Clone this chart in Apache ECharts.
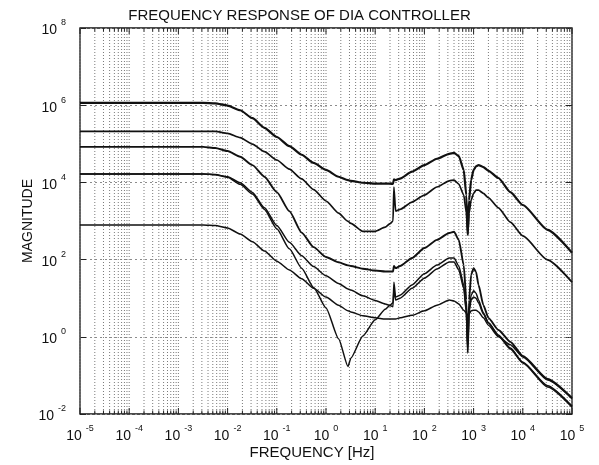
<!DOCTYPE html>
<html>
<head>
<meta charset="utf-8">
<script src="https://cdn.jsdelivr.net/npm/echarts@6/dist/echarts.min.js"></script>
<style>
  html, body { margin: 0; padding: 0; background: #fff; }
  #chart { width: 599px; height: 465px; }
</style>
</head>
<body>
<div id="chart"></div>
<script>
// Frequency samples (Hz), shared by every response curve
const freq = [1e-5, 1e-3, 0.0032, 0.0056, 0.01, 0.018, 0.032, 0.056, 0.1, 0.18,
  0.32, 0.56, 1, 1.8, 2.8, 3.2, 5.6, 10, 16, 20,
  23, 24, 26, 32, 56, 100, 180, 320, 400, 500,
  630, 710, 760, 810, 890, 1000, 1120, 1260, 1580, 2000,
  3200, 5600, 10000, 32000, 100000];

// Magnitude of each controller setting at the frequencies above
const gainTop = [1.15e6, 1.15e6, 1.15e6, 1.12e6, 9.8e5, 7.4e5, 4.6e5, 2.6e5, 1.5e5, 8.7e4,
  5.2e4, 3.2e4, 2.1e4, 1.4e4, 1.15e4, 1.1e4, 9.8e3, 9.3e3, 9.3e3, 9.3e3,
  9.1e3, 1.2e4, 1.15e4, 1.26e4, 1.9e4, 2.8e4, 4.1e4, 5.5e4, 5.8e4, 4.8e4,
  2.1e4, 4.7e3, 440, 3.5e3, 1.15e4, 2.1e4, 2.6e4, 2.8e4, 2.5e4, 2.0e4,
  1.3e4, 5.6e3, 2.6e3, 590, 150];

const gainSecond = [2.1e5, 2.1e5, 2.1e5, 2.1e5, 1.86e5, 1.45e5, 9.8e4, 6.3e4, 3.8e4, 2.2e4,
  1.23e4, 6.5e3, 3.3e3, 1.6e3, 980, 870, 540, 540, 690, 850,
  1000, 7.6e3, 1.8e3, 2.0e3, 3.1e3, 4.7e3, 7.6e3, 1.1e4, 1.15e4, 9.1e3,
  4.7e3, 1.7e3, 440, 1.6e3, 3.5e3, 5.2e3, 6.3e3, 6.3e3, 5.2e3, 4.0e3,
  2.2e3, 930, 410, 98, 26];

const gainThird = [8.3e4, 8.3e4, 8.3e4, 7.8e4, 6.5e4, 4.6e4, 2.8e4, 1.4e4, 5.6e3, 1.8e3,
  500, 210, 117, 85, 71, 68, 58, 52, 49, 49,
  49, 68, 60, 68, 110, 200, 325, 490, 525, 325,
  72, 9, 0.38, 9, 40, 60, 48, 22, 6.6, 3.1,
  1.5, 0.74, 0.32, 0.081, 0.026];

const gainFourth = [1.65e4, 1.65e4, 1.65e4, 1.6e4, 1.4e4, 9.8e3, 5.5e3, 2.2e3, 760, 280,
  126, 66, 38, 24, 17.4, 16.2, 11.5, 8.7, 7.1, 6.5,
  6.0, 26, 10.7, 12, 22, 43, 72, 110, 110, 68,
  22, 4.9, 0.46, 4.9, 12, 15.5, 13.5, 9, 4.2, 2.3,
  1.12, 0.51, 0.22, 0.054, 0.016];

const gainFifth = [1.65e4, 1.65e4, 1.65e4, 1.58e4, 1.35e4, 8.9e3, 5.0e3, 2.0e3, 630, 190,
  60, 19, 5.6, 0.89, 0.17, 0.28, 1.05, 2.75, 5.2, 6.6,
  7.6, 16, 9, 10, 18, 33, 57, 87, 87, 54,
  18, 4.4, 0.62, 4.4, 9, 10.7, 10, 7.6, 3.9, 2.3,
  1.05, 0.48, 0.21, 0.05, 0.015];

const gainSixth = [790, 790, 790, 760, 660, 460, 290, 167, 91, 54,
  32, 18, 10.7, 6.6, 4.7, 4.4, 3.5, 3.1, 2.9, 2.9,
  2.9, 2.9, 2.9, 3.1, 3.6, 4.7, 6.6, 9, 8.5, 7.1,
  4.9, 4.2, 3.6, 3.9, 4.7, 4.9, 4.9, 4.4, 3.1, 2.0,
  1.0, 0.62, 0.30, 0.076, 0.025];

// Axis ranges and grid steps
const X_MIN = 1e-5, X_MAX = 1e5;
const Y_MIN = 1e-2, Y_MAX = 1e8;
const xDecades = [1e-5, 1e-4, 1e-3, 1e-2, 1e-1, 1, 10, 100, 1000, 10000];
const minorSteps = [1, 2, 3, 4, 5, 6, 7, 8, 9];

const FONT = '"Liberation Sans", Arial, Helvetica, sans-serif';

const xGridValues = [];
xDecades.forEach(function (d) {
  minorSteps.forEach(function (m) { xGridValues.push([d * m, 1, m === 1 ? 1 : 0]); });
});
xGridValues.push([X_MAX, 1, 1]);

const curves = [gainTop, gainSecond, gainThird, gainFourth, gainFifth, gainSixth];
const widths = [2.2, 1.7, 1.9, 1.5, 1.5, 1.5];

function powLabel(v) {
  const e = Math.round(Math.log10(v));
  return '{b|10}{e|' + e + '}';
}
// exponent sits above the top of the "10"
const labelRich = {
  b: { fontFamily: FONT, fontSize: 14, color: '#111', verticalAlign: 'bottom', padding: [5, 0, 0, 0] },
  e: { fontFamily: FONT, fontSize: 9, color: '#111', verticalAlign: 'top', padding: [0, 0, 0, 4] }
};

const chart = echarts.init(document.getElementById('chart'), null, { renderer: 'canvas' });

const series = curves.map(function (vals, i) {
  return {
    type: 'line',
    data: freq.map(function (f, k) { return [f, vals[k]]; }),
    showSymbol: false,
    symbol: 'none',
    smooth: 0.2,
    smoothMonotone: 'x',
    lineStyle: { color: '#111', width: widths[i] },
    z: 5,
    silent: true
  };
});

// vertical dotted grid plus frame ticks along the top and bottom edges
series.push({
  type: 'custom',
  data: xGridValues,
  z: 1,
  silent: true,
  clip: false,
  renderItem: function (params, api) {
    const v = api.value(0);
    const major = api.value(2) === 1;
    const top = api.coord([v, Y_MAX]);
    const bot = api.coord([v, Y_MIN]);
    const len = major ? 6 : 3.5;
    return {
      type: 'group',
      children: [
        { type: 'line', shape: { x1: top[0], y1: top[1], x2: bot[0], y2: bot[1] },
          style: { stroke: '#7a7a7a', lineWidth: 1, lineDash: [1, 2] } },
        { type: 'line', shape: { x1: bot[0], y1: bot[1], x2: bot[0], y2: bot[1] - len },
          style: { stroke: '#222', lineWidth: 1 } },
        { type: 'line', shape: { x1: top[0], y1: top[1], x2: top[0], y2: top[1] + len },
          style: { stroke: '#222', lineWidth: 1 } }
      ]
    };
  }
});

const yCommon = {
  type: 'log',
  logBase: 10,
  min: Y_MIN,
  max: Y_MAX,
  interval: 2,
  axisLine: { show: false },
  axisTick: { show: true, inside: true, length: 6, lineStyle: { color: '#222' } }
};

const option = {
  animation: false,
  backgroundColor: '#fff',
  title: {
    text: 'FREQUENCY RESPONSE OF DIA CONTROLLER',
    left: 'center',
    top: 3,
    padding: [5, 10, 5, 0],
    textStyle: { fontFamily: FONT, fontSize: 15, fontWeight: 'normal', color: '#111' }
  },
  grid: {
    left: 80, right: 27, top: 28, bottom: 51,
    show: true, borderColor: '#111', borderWidth: 1.3, backgroundColor: 'transparent'
  },
  xAxis: {
    type: 'log',
    logBase: 10,
    min: X_MIN,
    max: X_MAX,
    interval: 1,
    axisLine: { show: false },
    axisTick: { show: false },
    splitLine: { show: false },
    axisLabel: { margin: 10, interval: 0, hideOverlap: false, formatter: powLabel, rich: labelRich },
    name: 'FREQUENCY [Hz]',
    nameLocation: 'middle',
    nameGap: 31,
    nameMoveOverlap: false,
    nameTextStyle: { fontFamily: FONT, fontSize: 15, color: '#111', padding: [0, 28, 0, 0] }
  },
  yAxis: [
    Object.assign({}, yCommon, {
      position: 'left',
      splitLine: { show: true, lineStyle: { color: '#8c8c8c', width: 1, type: [2, 3] } },
      axisLabel: { margin: 14, interval: 0, hideOverlap: false, formatter: powLabel, rich: labelRich },
      name: 'MAGNITUDE',
      nameLocation: 'middle',
      nameGap: 45,
      nameRotate: 90,
      nameMoveOverlap: false,
      nameTextStyle: { fontFamily: FONT, fontSize: 14, color: '#111' }
    }),
    Object.assign({}, yCommon, {
      position: 'right',
      splitLine: { show: false },
      axisLabel: { show: false }
    })
  ],
  series: series
};

chart.setOption(option);
</script>
</body>
</html>
